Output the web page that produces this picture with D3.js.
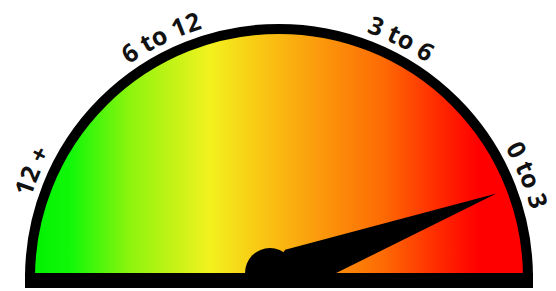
<!DOCTYPE html>
<html>
<head>
  <meta charset="utf-8">
  <script src="https://d3js.org/d3.v7.min.js"></script>
  <style>
    body { margin: 0; padding: 0; background: #fff; }
    .label { font-family: "Open Sans", sans-serif; font-weight: 700; font-size: 25px; fill: #111; }
  </style>
</head>
<body>
<div id="chart"></div>
<script>

// bands, left to right
var bands = ["12 +", "6 to 12", "3 to 6", "0 to 3"];
// band label position along the dial (in band units)
var labelPos = [0.52, 1.42, 2.6, 3.5];
// needle reading (band units, 0..4)
var needleValue = 3.57;

// gradient colours left -> right
var gradOffsets = [0, 0.08, 0.2, 0.36, 0.46, 0.58, 0.71, 0.82, 0.9, 1];
var gradColors = ["#00f000", "#10f808", "#8cf40e", "#f2f21e", "#f9c814", "#fb9a0c", "#fd6a04", "#ff2a00", "#ff0000", "#ff0000"];

var width = 556, height = 291;
var cx = 279, cy = 278, r = 249;

var svg = d3.select("#chart").append("svg")
    .attr("width", width)
    .attr("height", height);

var defs = svg.append("defs");
var grad = defs.append("linearGradient")
    .attr("id", "dialGrad")
    .attr("gradientUnits", "userSpaceOnUse")
    .attr("x1", -r).attr("x2", r)
    .attr("y1", 0).attr("y2", 0);
grad.selectAll("stop")
    .data(gradOffsets)
  .enter().append("stop")
    .attr("offset", function(d) { return d; })
    .attr("stop-color", function(d, i) { return gradColors[i]; });

// value -> angle (degrees, 0 = up, clockwise)
var angle = d3.scaleLinear().domain([0, bands.length]).range([-90, 90]);

var g = svg.append("g").attr("transform", "translate(" + cx + "," + cy + ")");

// dial face
var face = d3.arc()
    .innerRadius(0)
    .outerRadius(r)
    .startAngle(-Math.PI / 2)
    .endAngle(Math.PI / 2);

g.append("path")
    .attr("d", face())
    .attr("fill", "url(#dialGrad)")
    .attr("stroke", "#000")
    .attr("stroke-width", 10)
    .attr("stroke-linejoin", "round");

// label path
var lr = r + 12;
defs.append("path")
    .attr("id", "labelArc")
    .attr("d", "M" + (cx - lr) + "," + cy + " A" + lr + "," + lr + " 0 0,1 " + (cx + lr) + "," + cy);

svg.selectAll(".label")
    .data(bands)
  .enter().append("text")
    .attr("class", "label")
  .append("textPath")
    .attr("href", "#labelArc")
    .attr("startOffset", function(d, i) { return ((angle(labelPos[i]) + 90) / 180 * 100) + "%"; })
    .attr("text-anchor", "middle")
    .text(function(d) { return d; });

// needle
var a = angle(needleValue) * Math.PI / 180;
var hub = { x: -9, y: -5 };
var len = 240;
var ux = Math.sin(a), uy = -Math.cos(a);
var nx = -uy, ny = ux;
var tip = [hub.x + ux * len, hub.y + uy * len];
var p1 = [hub.x + ux * 30 + nx * 26, hub.y + uy * 30 + ny * 26];
var p2 = [hub.x + ux * 22 - nx * 17, hub.y + uy * 22 - ny * 17];

g.append("path")
    .attr("d", d3.line()([p1, tip, p2, [hub.x, hub.y]]) + "Z")
    .attr("fill", "#000");

var hubArc = d3.arc()
    .innerRadius(0)
    .outerRadius(25)
    .startAngle(-Math.PI / 2)
    .endAngle(Math.PI / 2);

g.append("path")
    .attr("transform", "translate(" + hub.x + "," + hub.y + ")")
    .attr("d", hubArc())
    .attr("fill", "#000");

// base bar
svg.append("rect")
    .attr("x", cx - r - 5)
    .attr("y", cy - 5)
    .attr("width", 2 * r + 10)
    .attr("height", 15)
    .attr("fill", "#000");

</script>
</body>
</html>
